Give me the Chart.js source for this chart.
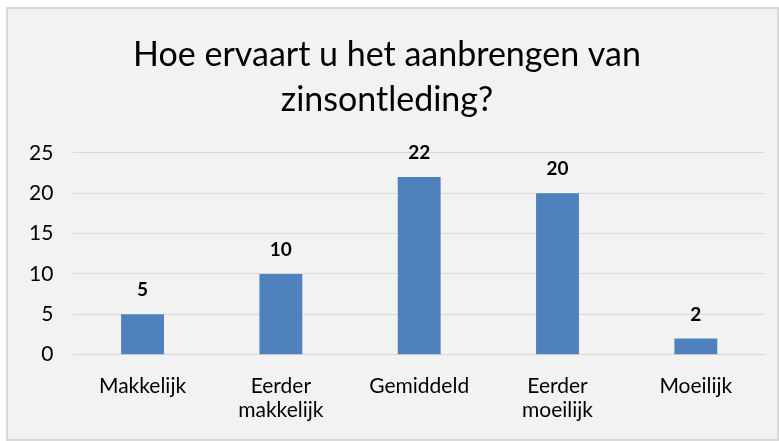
<!DOCTYPE html>
<html>
<head>
<meta charset="utf-8">
<script src="https://cdn.jsdelivr.net/npm/chart.js@4.4.0/dist/chart.umd.min.js"></script>
<style>
  html, body { margin: 0; padding: 0; background: #fff; }
  #box {
    position: absolute; left: 6px; top: 7px;
    width: 769px; height: 430px;
    background: #f2f2f2; border: 2px solid #d9d9d9;
  }
  canvas { display: block; }
</style>
</head>
<body>
<div id="box"><canvas id="chart" width="769" height="430"></canvas></div>
<script>
var categories = [["Makkelijk"], ["Eerder", "makkelijk"], ["Gemiddeld"], ["Eerder", "moeilijk"], ["Moeilijk"]];
var counts = [5, 10, 22, 20, 2];
var yTicks = [0, 5, 10, 15, 20, 25];
var titleLines = ["Hoe ervaart u het aanbrengen van", "zinsontleding?"];

// draws the numbers above the bars (no datalabels plugin offline)
var barValues = {
  id: "barValues",
  afterDatasetsDraw: function(chart) {
    var ctx = chart.ctx;
    var meta = chart.getDatasetMeta(0);
    ctx.save();
    ctx.font = "bold 19px Lato";
    ctx.fillStyle = "#000";
    ctx.textAlign = "center";
    ctx.textBaseline = "alphabetic";
    meta.data.forEach(function(bar, i) {
      ctx.fillText(counts[i], bar.x, bar.y - 18);
    });
    ctx.restore();
  }
};

const config = {
  type: "bar",
  data: {
    labels: categories,
    datasets: [
      {
        label: "Aantal",
        data: counts,
        backgroundColor: "#4f81bd",
        borderWidth: 0,
        barPercentage: 0.62,
        categoryPercentage: 0.5,
      },
    ],
  },
  options: {
    responsive: false,
    animation: false,
    layout: { padding: { left: 1, right: 12, top: 0, bottom: 6 } },
    plugins: {
      legend: { display: false },
      tooltip: { enabled: false },
      title: {
        display: true,
        text: titleLines,
        color: "#000",
        font: { family: "Lato", size: 34, weight: "normal", lineHeight: 1.32 },
        padding: { top: 24, bottom: 30 },
      },
    },
    scales: {
      x: {
        grid: { display: false },
        border: { color: "#d9d9d9", width: 1 },
        ticks: {
          color: "#000",
          font: { family: "Lato", size: 21, lineHeight: 1.15 },
          maxRotation: 0,
          padding: 11,
        },
      },
      y: {
        min: 0,
        max: 25,
        afterBuildTicks: function(axis) {
          axis.ticks = yTicks.map(function(v) { return { value: v }; });
        },
        grid: { color: "#d9d9d9", lineWidth: 1, drawTicks: false },
        border: { display: false },
        ticks: {
          color: "#000",
          font: { family: "Lato", size: 21 },
          padding: 20,
        },
      },
    },
  },
  plugins: [barValues],
};

window.addEventListener("load", function() {
  const ctx = document.getElementById("chart");
  const myChart = new Chart(ctx, config);
});
</script>
</body>
</html>
